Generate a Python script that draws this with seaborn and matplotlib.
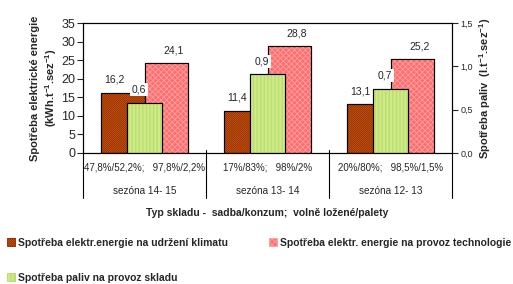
import matplotlib as mpl
import matplotlib.pyplot as plt
import matplotlib.patches as mpatches
from matplotlib.ticker import FuncFormatter
import seaborn as sns
import pandas as pd
import numpy as np

## Data

sezony = ["sezóna 14- 15", "sezóna 13- 14", "sezóna 12- 13"]
typ_skladu = ["47,8%/52,2%;   97,8%/2,2%", "17%/83%;   98%/2%", "20%/80%;   98,5%/1,5%"]
klima = [16.2, 11.4, 13.1]          # kWh/t/sez, leva osa
technologie = [24.1, 28.8, 25.2]    # kWh/t/sez, leva osa
paliva = [0.58, 0.91, 0.74]         # l/t/sez, prava osa

ser_klima = "Spotřeba elektr.energie na udržení klimatu"
ser_tech = "Spotřeba elektr. energie na provoz technologie"
ser_paliv = "Spotřeba paliv na provoz skladu"

## Styl

sns.set_style("white")
plt.rcParams['font.family'] = ['Liberation Sans', 'DejaVu Sans']
plt.rcParams['mathtext.fontset'] = 'custom'
plt.rcParams['mathtext.rm'] = 'Liberation Sans'
plt.rcParams['mathtext.bf'] = 'Liberation Sans:bold'
plt.rcParams['hatch.linewidth'] = 0.6

# (vypln, barva srafy, vzor)
barvy = {ser_klima: ('#DA6410', '#8A2800', '/' * 16),
         ser_tech: ('#FF6E6E', '#FFA0A0', 'x' * 6),
         ser_paliv: ('#E6FAA8', '#B4D864', '|' * 12)}

df = pd.DataFrame({"sezona": sezony * 2,
                   "serie": [ser_klima] * 3 + [ser_tech] * 3,
                   "hodnota": klima + technologie})
df_pal = pd.DataFrame({"sezona": sezony, "hodnota": paliva})

fig = plt.figure(figsize=(5.13, 2.84), dpi=100)
ax = fig.add_axes([83 / 513, 1 - 153 / 284, (452 - 83) / 513, 130 / 284])

sns.barplot(data=df, x="sezona", y="hodnota", hue="serie", order=sezony,
            hue_order=[ser_klima, ser_tech],
            palette={k: v[0] for k, v in barvy.items()},
            saturation=1, width=0.7, errorbar=None, legend=False,
            edgecolor='black', linewidth=0.8, ax=ax)

ax2 = ax.twinx()
sns.barplot(data=df_pal, x="sezona", y="hodnota", order=sezony,
            color=barvy[ser_paliv][0], saturation=1, width=0.29, errorbar=None,
            edgecolor='black', linewidth=0.8, ax=ax2)


def srafovani(osa, kontejner, serie):
    fc, hc, vzor = barvy[serie]
    for p in kontejner:
        z = p.get_zorder()
        osa.add_patch(mpatches.Rectangle(p.get_xy(), p.get_width(), p.get_height(),
                                         fill=False, hatch=vzor, edgecolor=hc,
                                         linewidth=0, zorder=z + 0.1))
        osa.add_patch(mpatches.Rectangle(p.get_xy(), p.get_width(), p.get_height(),
                                         fill=False, edgecolor='black',
                                         linewidth=0.8, zorder=z + 0.2))


def popisky(osa, kontejner, hodnoty, dx):
    for p, v in zip(kontejner, hodnoty):
        osa.annotate(f"{v:.1f}".replace('.', ','),
                     (p.get_x() + p.get_width() / 2, p.get_height()),
                     xytext=(dx, 13), textcoords='offset pixels',
                     ha='center', va='center', fontsize=7.5, zorder=5,
                     bbox=dict(boxstyle='square,pad=0.15', fc='white', ec='none'))


srafovani(ax, ax.containers[0], ser_klima)
srafovani(ax, ax.containers[1], ser_tech)
srafovani(ax2, ax2.containers[0], ser_paliv)

popisky(ax, ax.containers[0], klima, -9)
popisky(ax, ax.containers[1], technologie, 7.5)
popisky(ax2, ax2.containers[0], paliva, -5.5)

## Osy

ax.set_xlim(-0.5, len(sezony) - 0.5)
ax2.set_xlim(ax.get_xlim())
ax.set_ylim(0, 35)
ax.set_yticks(np.arange(0, 36, 5))
ax2.set_ylim(0, 1.5)
ax2.set_yticks([0, 0.5, 1.0, 1.5])
ax2.yaxis.set_major_formatter(FuncFormatter(lambda v, p: f"{v:.1f}".replace('.', ',')))

for a in (ax, ax2):
    a.set_xlabel('')
    a.tick_params(axis='x', bottom=False, labelbottom=False)
    for s in a.spines.values():
        s.set_color('black')
        s.set_linewidth(0.8)
ax.tick_params(axis='y', left=True, direction='out', length=4, width=0.8,
               labelsize=9, pad=1.5)
ax2.tick_params(axis='y', right=True, direction='out', length=4, width=0.8,
                labelsize=6.5, pad=2)

ax.set_ylabel("Spotřeba elektrické energie\n(kWh.t$^{\\mathbf{-1}}$.sez$^{\\mathbf{-1}}$)",
              fontsize=8, fontweight='bold', va='center', linespacing=1.3)
ax.yaxis.set_label_coords(-0.104, 0.5)
ax2.set_ylabel("Spotřeba paliv  (l.t$^{\\mathbf{-1}}$.sez$^{\\mathbf{-1}}$)",
               fontsize=8, fontweight='bold', va='center')
ax2.yaxis.set_label_coords(1.089, 0.5)

## Popisky kategorii (dvouurovnova osa x)

tr = mpl.transforms.blended_transform_factory(ax.transData, ax.transAxes)
hranice = np.arange(len(sezony) + 1) - 0.5
for i, xh in enumerate(hranice):
    y0 = 0 if i in (0, len(hranice) - 1) else 0.023
    ax.plot([xh, xh], [y0, -0.346], transform=tr, color='black', lw=0.8, clip_on=False)

for i, (t, s) in enumerate(zip(typ_skladu, sezony)):
    ax.text(i, -0.108, t, transform=tr, ha='center', va='center', fontsize=7)
    ax.text(i, -0.292, s, transform=tr, ha='center', va='center', fontsize=7.2)

fig.text(267.5 / 513, 1 - 213 / 284, "Typ skladu -  sadba/konzum;  volně ložené/palety",
         ha='center', va='center', fontsize=7.5, fontweight='bold')

## Legenda

def znacka(serie):
    fc, hc, vzor = barvy[serie]
    return mpatches.Patch(facecolor=fc, edgecolor=hc, hatch=vzor, linewidth=0.6)

pismo = {'weight': 'bold', 'size': 7.5}
nastaveni = dict(loc='upper left', frameon=False, prop=pismo, handlelength=0.8,
                 handleheight=0.8, handletextpad=0.3, borderpad=0, borderaxespad=0)
fig.legend([znacka(ser_klima), znacka(ser_paliv)], [ser_klima, ser_paliv],
           bbox_to_anchor=(7 / 513, 1 - 238 / 284), labelspacing=2.4, **nastaveni)
fig.legend([znacka(ser_tech)], [ser_tech],
           bbox_to_anchor=(269 / 513, 1 - 238 / 284), **nastaveni)

plt.savefig("out.png", dpi=100)
